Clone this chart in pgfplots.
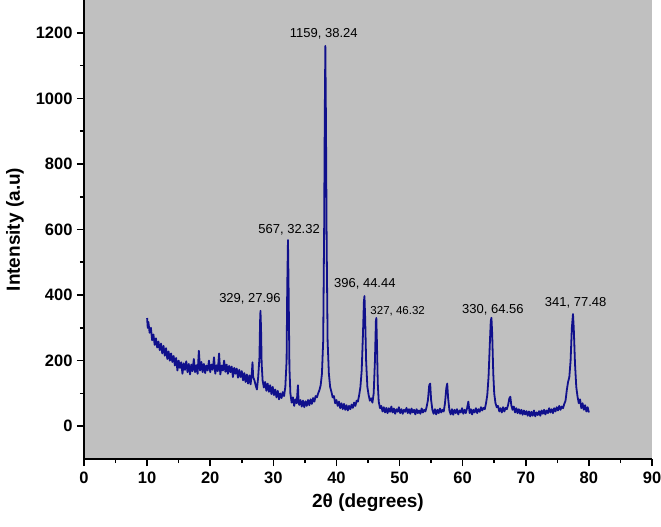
\documentclass[border=0pt]{standalone}
\usepackage{fontspec}
\setmainfont{Liberation Sans}
\usepackage{pgfplots}
\pgfplotsset{compat=1.18}
\definecolor{bggray}{RGB}{192,192,192}
\definecolor{xrdblue}{RGB}{16,16,140}
\begin{document}
\begin{tikzpicture}
\begin{axis}[
  scale only axis,
  width=568pt, height=459pt,
  xmin=0, xmax=90, ymin=-100, ymax=1300,
  xtick={0,10,...,90}, ytick={0,200,...,1200},
  minor x tick num=1, minor y tick num=1,
  axis x line*=bottom, axis y line*=left,
  tick align=outside,
  major tick length=7pt, minor tick length=4pt,
  every tick/.style={black, line width=1.6pt},
  axis line style={black, line width=2pt},
  axis background/.style={fill=bggray},
  /pgf/number format/assume math mode=true,
  /pgf/number format/set thousands separator={},
  tick label style={font=\bfseries\fontsize{16.5}{18}\selectfont},
  xticklabel style={yshift=-2pt},
  yticklabel style={xshift=-1pt},
  xlabel={\bfseries\fontsize{19}{21}\selectfont 2θ (degrees)},
  ylabel={\bfseries\fontsize{19}{21}\selectfont Intensity (a.u)},
  xlabel style={yshift=-4pt},
  ylabel style={yshift=5pt},
]
\addplot[xrdblue, line width=1.8pt, line join=round] table {
x y
10.0 330
10.1 300
10.2 318
10.4 285
10.6 300
10.8 262
11.0 280
11.2 248
11.4 268
11.6 240
11.8 258
12.0 232
12.2 252
12.4 222
12.6 245
12.8 215
13.0 238
13.2 205
13.4 228
13.6 200
13.8 222
14.0 196
14.2 214
14.4 185
14.6 208
14.8 170
15.0 200
15.2 178
15.4 195
15.6 160
15.8 192
16.0 172
16.2 198
16.4 165
16.6 190
16.8 158
17.0 188
17.2 168
17.4 205
17.6 165
17.8 186
18.0 160
18.2 230
18.4 170
18.6 196
18.8 165
19.0 190
19.2 162
19.4 185
19.6 170
19.8 200
20.0 165
20.2 188
20.4 172
20.6 210
20.8 160
21.0 186
21.2 168
21.4 222
21.6 158
21.8 185
22.0 170
22.2 200
22.4 166
22.6 188
22.8 160
23.0 184
23.2 165
23.4 182
23.6 150
23.8 178
24.0 160
24.2 176
24.4 148
24.6 172
24.8 150
25.0 168
25.2 140
25.4 162
25.6 135
25.8 158
26.0 130
26.2 155
26.4 128
26.6 165
26.7 195
26.8 150
27.0 140
27.2 125
27.4 112
27.6 150
27.8 210
27.9 320
27.96 352
28.05 300
28.15 190
28.3 140
28.5 118
28.7 135
28.9 108
29.1 130
29.3 105
29.5 125
29.7 98
29.9 120
30.1 95
30.3 112
30.5 88
30.7 108
30.9 82
31.1 100
31.3 86
31.5 104
31.7 92
31.9 120
32.1 200
32.2 420
32.32 568
32.42 420
32.55 180
32.7 100
32.9 72
33.1 88
33.3 62
33.5 82
33.7 70
33.9 125
34.0 75
34.1 65
34.3 80
34.5 60
34.7 78
34.9 58
35.1 76
35.3 62
35.5 80
35.7 64
35.9 82
36.1 68
36.3 86
36.5 75
36.7 92
36.9 88
37.1 100
37.3 110
37.5 125
37.7 160
37.9 260
38.05 600
38.15 950
38.24 1160
38.33 950
38.45 560
38.6 260
38.8 160
39.0 120
39.2 105
39.4 88
39.6 92
39.8 70
40.0 80
40.2 62
40.4 75
40.6 55
40.8 70
41.0 52
41.2 68
41.4 50
41.6 64
41.8 48
42.0 62
42.2 52
42.4 66
42.6 56
42.8 72
43.0 62
43.2 78
43.4 75
43.6 95
43.8 120
44.0 170
44.2 280
44.35 380
44.44 397
44.55 330
44.7 200
44.9 120
45.1 95
45.3 78
45.5 85
45.7 72
45.9 100
46.1 200
46.25 320
46.32 330
46.42 250
46.55 130
46.7 75
46.9 55
47.1 62
47.3 45
47.5 58
47.7 42
47.9 56
48.1 40
48.3 55
48.5 44
48.7 60
48.9 42
49.1 54
49.3 38
49.5 52
49.7 44
49.9 58
50.1 40
50.3 52
50.5 38
50.7 50
50.9 44
51.1 56
51.3 40
51.5 52
51.7 38
51.9 54
52.1 42
52.3 50
52.5 36
52.7 52
52.9 40
53.1 48
53.3 38
53.5 54
53.7 42
53.9 50
54.1 45
54.3 60
54.5 80
54.7 125
54.85 130
55.0 80
55.2 50
55.4 38
55.6 52
55.8 36
56.0 50
56.2 40
56.4 54
56.6 42
56.8 50
57.0 45
57.2 70
57.4 115
57.55 130
57.7 85
57.9 48
58.1 36
58.3 52
58.5 35
58.7 50
58.9 40
59.1 52
59.3 36
59.5 48
59.7 42
59.9 55
60.1 38
60.3 50
60.5 40
60.7 55
60.9 75
61.1 40
61.3 52
61.5 36
61.7 50
61.9 42
62.1 55
62.3 40
62.5 52
62.7 44
62.9 58
63.1 48
63.3 56
63.5 52
63.7 70
63.9 95
64.1 150
64.3 250
64.45 320
64.56 331
64.68 280
64.85 160
65.0 100
65.2 70
65.4 58
65.6 62
65.8 45
66.0 55
66.2 42
66.4 58
66.6 45
66.8 56
67.0 52
67.2 65
67.4 85
67.55 90
67.7 65
67.9 50
68.1 60
68.3 42
68.5 55
68.7 40
68.9 52
69.1 38
69.3 50
69.5 35
69.7 48
69.9 36
70.1 46
70.3 32
70.5 45
70.7 30
70.9 44
71.1 32
71.3 48
71.5 30
71.7 42
71.9 34
72.1 46
72.3 32
72.5 48
72.7 38
72.9 50
73.1 36
73.3 48
73.5 40
73.7 55
73.9 42
74.1 52
74.3 40
74.5 55
74.7 45
74.9 58
75.1 48
75.3 62
75.5 50
75.7 60
75.9 55
76.1 68
76.3 78
76.5 110
76.7 135
76.9 150
77.1 200
77.3 300
77.48 342
77.6 300
77.8 190
78.0 120
78.2 90
78.4 70
78.6 82
78.8 55
79.0 70
79.2 50
79.4 64
79.6 45
79.8 58
80.0 42
};
\node[font=\fontsize{13}{15}\selectfont] at (axis cs:38.0,1197) {1159, 38.24};
\node[font=\fontsize{13}{15}\selectfont] at (axis cs:32.5,598) {567, 32.32};
\node[font=\fontsize{13}{15}\selectfont] at (axis cs:26.3,388) {329, 27.96};
\node[font=\fontsize{13}{15}\selectfont] at (axis cs:44.5,434) {396, 44.44};
\node[font=\fontsize{11.5}{13}\selectfont] at (axis cs:49.7,351) {327, 46.32};
\node[font=\fontsize{13}{15}\selectfont] at (axis cs:64.8,354) {330, 64.56};
\node[font=\fontsize{13}{15}\selectfont] at (axis cs:77.9,375) {341, 77.48};
\end{axis}
\pgfresetboundingbox
\path ([xshift=-84pt,yshift=-67pt]current axis.south west) rectangle ([xshift=9pt]current axis.north east);
\end{tikzpicture}
\end{document}
